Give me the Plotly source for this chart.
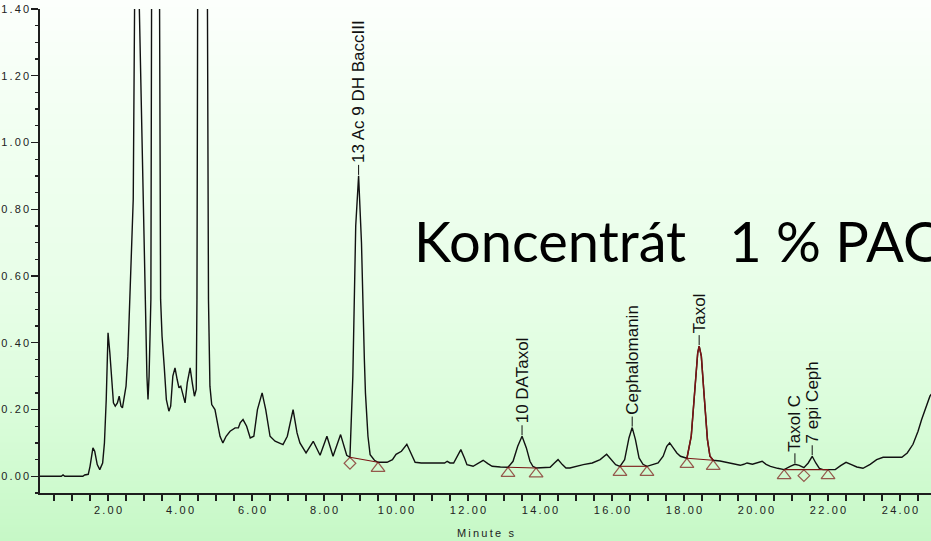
import base64
import struct
import zlib

import numpy as np
import plotly.graph_objects as go

# ---------------- data ----------------
time_min = [
    0.11, 0.70, 0.75, 0.80, 1.30, 1.35, 1.45, 1.50, 1.58, 1.63, 1.70, 1.77, 1.85, 1.90, 1.95,
    2.00, 2.05, 2.10, 2.15, 2.20, 2.26, 2.31, 2.36, 2.40, 2.45, 2.50, 2.55, 2.61, 2.66, 2.70,
    2.74, 2.80, 2.86, 2.98, 3.03, 3.08, 3.11, 3.14, 3.19, 3.21, 3.32, 3.43, 3.46, 3.50, 3.56,
    3.62, 3.69, 3.74, 3.80, 3.86, 3.92, 3.97, 4.02, 4.07, 4.14, 4.20, 4.28, 4.34, 4.40, 4.45,
    4.47, 4.49, 4.62, 4.76, 4.79, 4.83, 4.88, 4.97, 5.05, 5.11, 5.19, 5.28, 5.39, 5.53, 5.62,
    5.67, 5.75, 5.85, 5.95, 6.05, 6.15, 6.28, 6.38, 6.50, 6.64, 6.86, 6.98, 7.14, 7.25, 7.33,
    7.50, 7.70, 7.89, 8.08, 8.25, 8.46, 8.63, 8.72, 8.80, 8.88, 8.96, 9.04, 9.12, 9.15, 9.22,
    9.28, 9.40, 9.50, 9.75, 9.90, 10.00, 10.15, 10.30, 10.42, 10.53, 10.70, 11.35, 11.42, 11.50,
    11.60, 11.70, 11.80, 11.90, 11.97, 12.14, 12.28, 12.42, 12.55, 12.67, 12.90, 13.11, 13.25,
    13.38, 13.50, 13.62, 13.72, 13.80, 13.89, 14.28, 14.40, 14.50, 14.62, 14.72, 14.83, 15.00,
    15.20, 15.45, 15.67, 15.85, 15.98, 16.10, 16.22, 16.35, 16.47, 16.56, 16.65, 16.75, 16.86,
    16.97, 17.28, 17.42, 17.52, 17.60, 17.70, 17.80, 17.90, 18.08, 18.20, 18.30, 18.38, 18.42,
    18.48, 18.56, 18.65, 18.72, 18.81, 19.00, 19.20, 19.40, 19.56, 19.66, 19.75, 19.90, 20.05,
    20.17, 20.28, 20.40, 20.60, 20.78, 20.95, 21.08, 21.20, 21.33, 21.45, 21.56, 21.66, 21.76,
    21.86, 22.00, 22.20, 22.35, 22.50, 22.65, 22.80, 22.97, 23.17, 23.35, 23.53, 24.05, 24.20,
    24.36, 24.50, 24.60, 24.72, 24.83, 24.90,
]
absorbance = [
    0.000, 0.000, 0.004, 0.000, 0.000, 0.004, 0.006, 0.030, 0.085, 0.075, 0.035, 0.020, 0.040, 0.100, 0.230,
    0.430, 0.370, 0.300, 0.220, 0.210, 0.220, 0.240, 0.210, 0.205, 0.240, 0.270, 0.360, 0.530, 0.700, 0.830,
    1.450, 2.200, 1.450, 0.830, 0.530, 0.300, 0.230, 0.300, 0.530, 1.450, 2.600, 1.450, 0.530, 0.420, 0.330,
    0.230, 0.195, 0.210, 0.300, 0.325, 0.290, 0.265, 0.270, 0.250, 0.220, 0.280, 0.325, 0.280, 0.240, 0.260,
    0.530, 1.450, 3.000, 1.450, 0.530, 0.270, 0.215, 0.200, 0.160, 0.120, 0.100, 0.120, 0.135, 0.145, 0.145,
    0.160, 0.170, 0.150, 0.115, 0.120, 0.200, 0.250, 0.200, 0.120, 0.105, 0.095, 0.120, 0.200, 0.130, 0.100,
    0.070, 0.105, 0.063, 0.120, 0.060, 0.125, 0.063, 0.057, 0.300, 0.750, 0.900, 0.700, 0.350, 0.250, 0.120,
    0.065, 0.048, 0.042, 0.042, 0.050, 0.066, 0.075, 0.096, 0.070, 0.042, 0.040, 0.040, 0.045, 0.040,
    0.040, 0.060, 0.080, 0.055, 0.035, 0.030, 0.040, 0.048, 0.038, 0.030, 0.028, 0.027, 0.045,
    0.090, 0.120, 0.085, 0.045, 0.030, 0.025, 0.027, 0.040, 0.050, 0.035, 0.025, 0.025, 0.030,
    0.035, 0.040, 0.050, 0.066, 0.050, 0.035, 0.030, 0.050, 0.115, 0.146, 0.110, 0.055, 0.036,
    0.030, 0.040, 0.060, 0.090, 0.100, 0.085, 0.070, 0.060, 0.054, 0.120, 0.260, 0.370, 0.390,
    0.360, 0.240, 0.110, 0.060, 0.048, 0.046, 0.042, 0.036, 0.033, 0.036, 0.040, 0.036, 0.040,
    0.045, 0.036, 0.030, 0.024, 0.020, 0.030, 0.036, 0.033, 0.026, 0.040, 0.060, 0.040, 0.024,
    0.020, 0.020, 0.020, 0.032, 0.042, 0.035, 0.028, 0.024, 0.036, 0.050, 0.057, 0.057, 0.070,
    0.096, 0.135, 0.170, 0.210, 0.240, 0.250,
]

peak_names = ["13 Ac 9 DH BaccIII", "10 DATaxol", "Cephalomanin", "Taxol", "Taxol C", "7 epi Ceph"]
peak_times = [8.96, 13.50, 16.56, 18.42, 21.08, 21.56]

baseline_start_x = [8.72, 13.11, 16.22, 18.08, 20.78]
baseline_start_y = [0.057, 0.027, 0.030, 0.054, 0.020]
baseline_end_x = [9.50, 13.89, 16.97, 18.81, 22.00]
baseline_end_y = [0.042, 0.025, 0.030, 0.048, 0.020]

marker_x = [8.72, 9.50, 13.11, 13.89, 16.22, 16.97, 18.08, 18.81, 20.78, 21.33, 22.00]
marker_y = [0.057, 0.042, 0.027, 0.025, 0.030, 0.030, 0.054, 0.048, 0.020, 0.020, 0.020]
marker_kind = ["diamond", "triangle", "triangle", "triangle", "triangle", "triangle",
               "triangle", "triangle", "triangle", "diamond", "triangle"]

x_tick_values = [2, 4, 6, 8, 10, 12, 14, 16, 18, 20, 22, 24]
x_tick_labels = ["2.00", "4.00", "6.00", "8.00", "10.00", "12.00", "14.00", "16.00",
                 "18.00", "20.00", "22.00", "24.00"]
y_tick_values = [0.0, 0.2, 0.4, 0.6, 0.8, 1.0, 1.2, 1.4]
y_tick_labels = ["0.00", "0.20", "0.40", "0.60", "0.80", "1.00", "1.20", "1.40"]
x_title = "Minute s"
overlay_text = "Koncentrát   1 % PAC"

# ---------------- style ----------------
W, H = 931, 541
ML, MR, MT, MB = 40, 0, 9, 48
AX = "#1e1e1e"
MAROON = "#7b1414"
SP = "\u2009"
MARKER_DROP = 0.018
GRAD_STOPS = [(0, (252, 255, 252)), (120, (242, 255, 242)), (300, (231, 254, 231)),
              (400, (220, 253, 220)), (541, (198, 248, 198))]


def spaced(s):
    return SP.join(list(s))


def gradient_png(w, h, stops):
    ys = [s[0] for s in stops]
    rows = []
    for r in range(h):
        c = [int(round(np.interp(r, ys, [s[1][k] for s in stops]))) for k in range(3)]
        rows.append(b"\x00" + bytes(c) * w)
    raw = b"".join(rows)

    def chunk(t, d):
        return struct.pack(">I", len(d)) + t + d + struct.pack(">I", zlib.crc32(t + d) & 0xFFFFFFFF)

    ihdr = struct.pack(">IIBBBBB", w, h, 8, 2, 0, 0, 0)
    png = b"\x89PNG\r\n\x1a\n" + chunk(b"IHDR", ihdr) + chunk(b"IDAT", zlib.compress(raw)) + chunk(b"IEND", b"")
    return "data:image/png;base64," + base64.b64encode(png).decode()


tx = np.array(time_min)
ty = np.array(absorbance)

fig = go.Figure()

fig.add_trace(go.Scatter(x=tx, y=ty, mode="lines", line=dict(color="#111111", width=1.4),
                         hoverinfo="skip", showlegend=False))

# Taxol peak highlighted between its baseline points
sel = (tx >= baseline_start_x[3]) & (tx <= baseline_end_x[3])
fig.add_trace(go.Scatter(x=tx[sel], y=ty[sel], mode="lines", line=dict(color=MAROON, width=1.5),
                         hoverinfo="skip", showlegend=False))

for x0, y0, x1, y1 in zip(baseline_start_x, baseline_start_y, baseline_end_x, baseline_end_y):
    fig.add_trace(go.Scatter(x=[x0, x1], y=[y0, y1], mode="lines",
                             line=dict(color=MAROON, width=1.1), hoverinfo="skip", showlegend=False))

sym_map = {"triangle": "triangle-up-open", "diamond": "diamond-open"}
size_map = {"triangle": 12, "diamond": 9}
fig.add_trace(go.Scatter(
    x=marker_x, y=[v - MARKER_DROP for v in marker_y], mode="markers",
    marker=dict(symbol=[sym_map[k] for k in marker_kind], size=[size_map[k] for k in marker_kind],
                color=MAROON, line=dict(color=MAROON, width=1.2)),
    hoverinfo="skip", showlegend=False))

shapes = []
annotations = []
for name, pt in zip(peak_names, peak_times):
    apex = float(np.interp(pt, tx, ty))
    shapes.append(dict(type="line", xref="x", yref="y", ysizemode="pixel", yanchor=apex,
                       x0=pt, x1=pt, y0=1, y1=11, line=dict(color="#111111", width=1)))
    annotations.append(dict(x=pt, y=apex, xref="x", yref="y", text=name, textangle=-90,
                            showarrow=False, xanchor="center", yanchor="bottom", yshift=11,
                            font=dict(family="Liberation Sans, Arial, sans-serif", size=17,
                                      color="#111111")))

pw = W - ML - MR
ph = H - MT - MB
annotations.append(dict(x=(412 - ML) / pw, y=(H - MB - 240) / ph,
                        xref="paper", yref="paper", xanchor="left", yanchor="middle",
                        text=overlay_text.replace(" ", "\u00a0"), showarrow=False,
                        font=dict(family="Lato, Open Sans, sans-serif", size=56, color="#000000")))

images = [dict(source=gradient_png(2, H, GRAD_STOPS), xref="paper", yref="paper",
               x=-ML / pw, y=1 + MT / ph, sizex=W / pw, sizey=H / ph,
               sizing="stretch", layer="below", xanchor="left", yanchor="top")]

tickfont = dict(family="Liberation Sans, Arial, sans-serif", size=11, color="#222222")

fig.update_layout(
    width=W, height=H, autosize=False,
    margin=dict(l=ML, r=MR, t=MT, b=MB, pad=0),
    paper_bgcolor="rgba(0,0,0,0)", plot_bgcolor="rgba(0,0,0,0)",
    shapes=shapes, annotations=annotations, images=images,
    showlegend=False,
    xaxis=dict(range=[0.11, 24.86], showline=True, linecolor=AX, linewidth=1.6,
               ticks="outside", ticklen=6, tickwidth=1.3, tickcolor=AX,
               tickmode="array", tickvals=x_tick_values,
               ticktext=[spaced(t) for t in x_tick_labels], tickfont=tickfont,
               minor=dict(ticks="outside", ticklen=6, tickwidth=1.3, tickcolor=AX,
                          tick0=0, dtick=0.5, showgrid=False),
               showgrid=False, zeroline=False, automargin=False,
               title=dict(text=spaced(x_title), font=tickfont, standoff=14)),
    yaxis=dict(range=[-0.05, 1.40], showline=True, linecolor=AX, linewidth=1.6,
               ticks="outside", ticklen=7, tickwidth=1.3, tickcolor=AX,
               tickmode="array", tickvals=y_tick_values,
               ticktext=[spaced(t) for t in y_tick_labels], tickfont=tickfont,
               minor=dict(ticks="outside", ticklen=3.5, tickwidth=1.3, tickcolor=AX,
                          tick0=0, dtick=0.05, showgrid=False),
               showgrid=False, zeroline=False, automargin=False),
)

fig.write_html("out.html", config={"displayModeBar": False, "staticPlot": True},
               post_script="document.body.style.margin='0';document.body.style.overflow='hidden';")
